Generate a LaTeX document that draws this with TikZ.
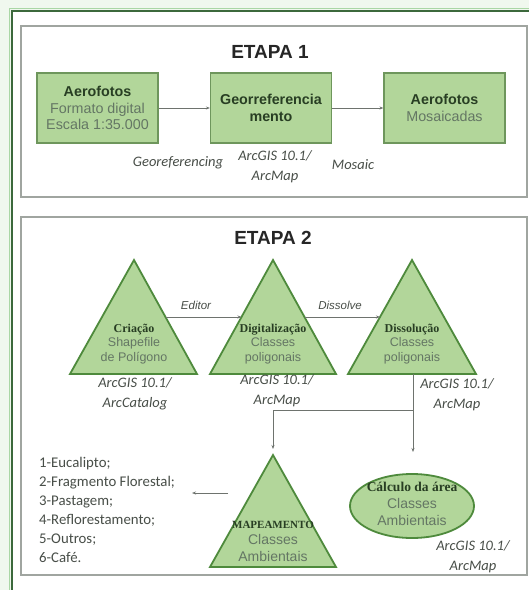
\documentclass[tikz,border=0pt]{standalone}
\usepackage{fontspec}
\setmainfont{Liberation Sans}
\newfontfamily\carlito{Carlito}
\newfontfamily\timesf{Liberation Serif}
\usetikzlibrary{shapes.geometric,arrows.meta,calc}
\definecolor{bgout}{RGB}{240,248,238}
\definecolor{framec}{RGB}{60,105,60}
\definecolor{framel}{RGB}{170,215,165}
\definecolor{panelc}{RGB}{160,165,160}
\definecolor{fillg}{RGB}{178,214,154}
\definecolor{trib}{RGB}{78,138,60}
\definecolor{boxb}{RGB}{110,150,92}
\definecolor{boldt}{RGB}{40,62,35}
\definecolor{subt}{RGB}{100,118,100}
\definecolor{lblt}{RGB}{72,78,72}
\definecolor{connc}{RGB}{110,115,110}
\newcommand\bolddark[2][12]{{\timesf\bfseries\fontsize{#1}{14}\selectfont\color{boldt}#2}}
\begin{document}
\begin{tikzpicture}[x=1pt,y=-1pt,
  panel/.style={draw=panelc,line width=1.2pt,fill=white},
  title/.style={font=\fontsize{19}{22}\selectfont\bfseries,text=black!85},
  stepbox/.style={draw=boxb,line width=1.2pt,fill=fillg,minimum width=121pt,minimum height=70pt,align=center,inner sep=2pt,font=\fontsize{14.3}{16.5}\selectfont,text=subt},
  tri/.style={draw=trib,line width=1.8pt,fill=fillg,line join=miter},
  tritxt/.style={align=center,inner sep=0pt,font=\fontsize{12.5}{14.5}\selectfont,text=subt},
  lbl/.style={align=center,inner sep=0pt,font=\carlito\itshape\fontsize{14.5}{20}\selectfont,text=lblt},
  conn/.style={draw=connc,line width=0.8pt,-{Stealth[length=4pt,width=3pt]}}
]
\useasboundingbox (0,0) rectangle (529,590);
\fill[bgout] (0,0) rectangle (529,590);
\fill[white] (12,11) rectangle (529,590);
% outer frame
\draw[framel,line width=1.5pt] (9.5,600) -- (9.5,8.5) -- (540,8.5);
\draw[framec,line width=2.2pt] (12,600) -- (12,11) -- (540,11);
% panels
\draw[panel] (21,26) rectangle (527,197);
\draw[panel] (21,217) rectangle (527,575);

% ETAPA 1
\node[title] (et1) at (270,52) {ETAPA 1};
\node[stepbox] (b1) at (97.5,108) {{\bfseries\color{boldt}Aerofotos}\\Formato digital\\Escala 1:35.000};
\node[stepbox] (b2) at (271,108) {{\bfseries\color{boldt}Georreferencia}\\{\bfseries\color{boldt}mento}};
\node[stepbox] (b3) at (444.5,108) {{\bfseries\color{boldt}Aerofotos}\\Mosaicadas};
\draw[conn] (b1) -- (b2);
\draw[conn] (b2) -- (b3);
\node[lbl] (l1) at (178,163) {Georeferencing};
\node[lbl] (l2) at (275,167) {ArcGIS 10.1/\\ArcMap};
\node[lbl] (l3) at (353,165) {Mosaic};

% ETAPA 2
\node[title] (et2) at (273,238) {ETAPA 2};
% triangle 1
\coordinate (t1a) at (134,260); \coordinate (t1l) at (70,374); \coordinate (t1r) at (197,374);
\filldraw[tri] (t1a) -- (t1r) -- (t1l) -- cycle;
\node[tritxt] (t1t) at (134,344) {\bolddark{Criação}\\Shapefile\\de Polígono};
% triangle 2
\coordinate (t2a) at (273,260); \coordinate (t2l) at (210,374); \coordinate (t2r) at (336,374);
\filldraw[tri] (t2a) -- (t2r) -- (t2l) -- cycle;
\node[tritxt] (t2t) at (273,344) {\bolddark{Digitalização}\\Classes\\poligonais};
% triangle 3
\coordinate (t3a) at (412,260); \coordinate (t3l) at (348,374); \coordinate (t3r) at (476,374);
\filldraw[tri] (t3a) -- (t3r) -- (t3l) -- cycle;
\node[tritxt] (t3t) at (412,344) {\bolddark{Dissolução}\\Classes\\poligonais};
% triangle 4
\coordinate (t4a) at (273,455); \coordinate (t4l) at (210,567); \coordinate (t4r) at (336,567);
\filldraw[tri] (t4a) -- (t4r) -- (t4l) -- cycle;
\node[tritxt,font=\fontsize{14}{16.5}\selectfont] (t4t) at (273,541) {\bolddark[11]{MAPEAMENTO}\\Classes\\Ambientais};
% ellipse
\node[ellipse,draw=trib,line width=1.8pt,fill=fillg,minimum width=124pt,minimum height=64pt,inner sep=0pt] (el) at (412,506) {};
\node[tritxt,font=\fontsize{14}{17}\selectfont] (elt) at (412,504) {\bolddark[13.5]{Cálculo da área}\\Classes\\Ambientais};

% connectors etapa 2
\coordinate (t1m) at ($(t1a)!0.5!(t1r)$);
\coordinate (t2m) at ($(t2a)!0.5!(t2l)$);
\coordinate (t2n) at ($(t2a)!0.5!(t2r)$);
\coordinate (t3m) at ($(t3a)!0.5!(t3l)$);
\draw[conn] (t1m) -- (t2m);
\draw[conn] (t2n) -- (t3m);
\node[lbl,font=\itshape\fontsize{11.5}{13}\selectfont] (le) at (196,305) {Editor};
\node[lbl,font=\itshape\fontsize{11.5}{13}\selectfont] (ld) at (340,305) {Dissolve};

\coordinate (t3b) at (413,374);
\coordinate (jn) at (413,410);
\coordinate (elin) at (413,452);
\coordinate (t4in) at (273,449);
\draw[conn] (t3b) -- (elin);
\draw[conn] (jn) -| (t4in);

% labels
\node[lbl] (l4) at (135,394) {ArcGIS 10.1/\\ArcCatalog};
\node[lbl] (l5) at (277,391) {ArcGIS 10.1/\\ArcMap};
\node[lbl] (l6) at (457,395) {ArcGIS 10.1/\\ArcMap};
\node[lbl] (l7) at (473,557) {ArcGIS 10.1/\\ArcMap};

% list
\node[align=left,inner sep=0pt,anchor=west,font=\carlito\fontsize{14.8}{19}\selectfont,text=lblt] (lst) at (39,510)
 {1-Eucalipto;\\2-Fragmento Florestal;\\3-Pastagem;\\4-Reflorestamento;\\5-Outros;\\6-Café.};
\coordinate (t4w) at (228,493);
\coordinate (lstin) at (192,493);
\draw[conn] (t4w) -- (lstin);
\end{tikzpicture}
\end{document}
